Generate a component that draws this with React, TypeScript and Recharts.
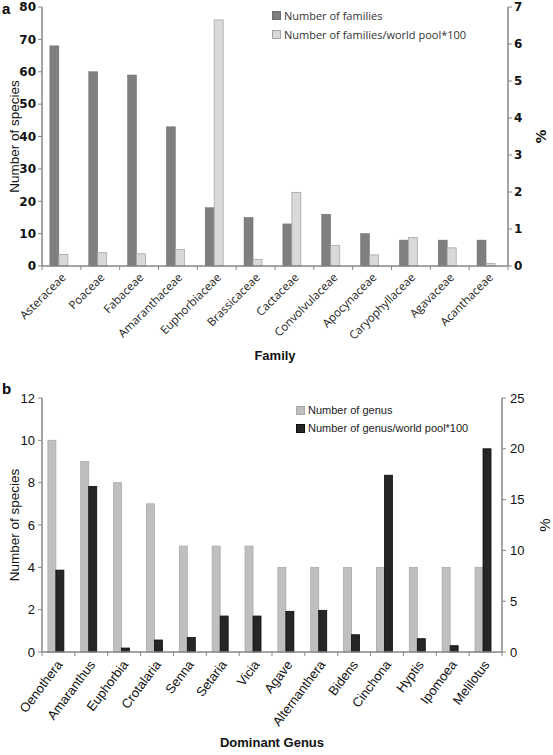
import React from 'react';
import { BarChart, Bar, XAxis, YAxis, Legend } from 'recharts';

// ---------- Data: chart a ----------
const families = [
  'Asteraceae', 'Poaceae', 'Fabaceae', 'Amaranthaceae', 'Euphorbiaceae', 'Brassicaceae',
  'Cactaceae', 'Convolvulaceae', 'Apocynaceae', 'Caryophyllaceae', 'Agavaceae', 'Acanthaceae',
];
const familyCounts = [68, 60, 59, 43, 18, 15, 13, 16, 10, 8, 8, 8];
const familyPercents = [0.31, 0.36, 0.33, 0.45, 6.65, 0.18, 1.99, 0.55, 0.3, 0.77, 0.49, 0.07];
const familyLeftTicks = [0, 10, 20, 30, 40, 50, 60, 70, 80];
const familyRightTicks = [0, 1, 2, 3, 4, 5, 6, 7];
const familySeriesNames = ['Number of families', 'Number of families/world pool*100'];

// ---------- Data: chart b ----------
const genera = [
  'Oenothera', 'Amaranthus', 'Euphorbia', 'Crotalaria', 'Senna', 'Setaria', 'Vicia',
  'Agave', 'Alternanthera', 'Bidens', 'Cinchona', 'Hyptis', 'Ipomoea', 'Melilotus',
];
const genusCounts = [10, 9, 8, 7, 5, 5, 5, 4, 4, 4, 4, 4, 4, 4];
const genusPercents = [8.06, 16.3, 0.39, 1.18, 1.44, 3.54, 3.54, 4.0, 4.1, 1.7, 17.4, 1.31, 0.62, 20.0];
const genusLeftTicks = [0, 2, 4, 6, 8, 10, 12];
const genusRightTicks = [0, 5, 10, 15, 20, 25];
const genusSeriesNames = ['Number of genus', 'Number of genus/world pool*100'];

const familyData = families.map((name, i) => ({ name, count: familyCounts[i], pct: familyPercents[i] }));
const genusData = genera.map((name, i) => ({ name, count: genusCounts[i], pct: genusPercents[i] }));

const AXIS = '#868686';

// bars in the original sit slightly left of the band centre
const shiftedBar = (shift: number) => (props: any) => {
  const { x, y, width, height, fill, stroke, strokeWidth } = props;
  if (!height || height <= 0) return <g />;
  return <rect x={x + shift} y={y} width={width} height={height} fill={fill} stroke={stroke} strokeWidth={strokeWidth} />;
};

const makeXTick = (opts: { angle: number; dx: number; dy: number; font: string; size: number; count: number; color: string }) =>
  (props: any) => {
    const { x, y, payload, index } = props;
    const half = payload && typeof payload.offset === 'number' ? payload.offset : 0;
    const ax = x + opts.dx;
    const ay = y + opts.dy;
    return (
      <g>
        <line x1={x - half} x2={x - half} y1={y} y2={y + 4} stroke={AXIS} strokeWidth={1} />
        {index === opts.count - 1 && (
          <line x1={x + half} x2={x + half} y1={y} y2={y + 4} stroke={AXIS} strokeWidth={1} />
        )}
        <text
          x={ax}
          y={ay}
          transform={`rotate(${opts.angle} ${ax} ${ay})`}
          textAnchor="end"
          dominantBaseline="central"
          fontFamily={opts.font}
          fontSize={opts.size}
          fill={opts.color}
        >
          {payload.value}
        </text>
      </g>
    );
  };

const FamilyTick = makeXTick({ angle: -45, dx: 2, dy: 9, font: '"Open Sans", sans-serif', size: 11.5, count: families.length, color: '#222' });
const GenusTick = makeXTick({ angle: -53, dx: 1, dy: 10, font: '"Liberation Sans", Arial, sans-serif', size: 13, count: genera.length, color: '#111' });

const LegendBox = ({ names, colors, strokes, font, size, color, gap }: any) => (
  <div style={{ fontFamily: font, fontSize: size, color, lineHeight: `${gap}px` }}>
    {names.map((n: string, i: number) => (
      <div key={n} style={{ display: 'flex', alignItems: 'center', height: gap, whiteSpace: 'nowrap' }}>
        <span style={{ display: 'inline-block', width: 7, height: 7, background: colors[i], border: `1px solid ${strokes[i]}`, marginRight: 3 }} />
        <span>{n}</span>
      </div>
    ))}
  </div>
);

const sideLabel = (text: string, dxFromLeft: number, font: string, size: number, weight: string, color: string) =>
  (props: any) => {
    const vb = props.viewBox;
    const cx = vb.x + dxFromLeft;
    const cy = vb.y + vb.height / 2;
    return (
      <text x={cx} y={cy} transform={`rotate(-90 ${cx} ${cy})`} textAnchor="middle" dominantBaseline="central"
        fontFamily={font} fontSize={size} fontWeight={weight} fill={color}>
        {text}
      </text>
    );
  };

const bottomLabel = (text: string, dy: number, font: string, size: number) =>
  (props: any) => {
    const vb = props.viewBox;
    return (
      <text x={vb.x + vb.width / 2} y={vb.y + dy} textAnchor="middle" dominantBaseline="central"
        fontFamily={font} fontSize={size} fontWeight="bold" fill="#111">
        {text}
      </text>
    );
  };

export default function App() {
  const verdanaBold = { fontFamily: '"DejaVu Sans", Verdana, sans-serif', fontSize: 12, fontWeight: 'bold', fill: '#111' } as any;
  const arialTick = { fontFamily: '"Liberation Sans", Arial, sans-serif', fontSize: 13, fill: '#111' } as any;
  return (
    <div style={{ position: 'absolute', left: 0, top: 0, width: 553, height: 755, background: '#fff', overflow: 'hidden' }}>
      <div style={{ position: 'absolute', left: 2, top: 0, fontFamily: '"Liberation Sans", Arial, sans-serif', fontWeight: 'bold', fontSize: 15 }}>a</div>
      <div style={{ position: 'absolute', left: 2, top: 380, fontFamily: '"Liberation Sans", Arial, sans-serif', fontWeight: 'bold', fontSize: 15 }}>b</div>

      <div style={{ position: 'absolute', left: 0, top: 0 }}>
        <BarChart width={553} height={380} data={familyData} margin={{ top: 7, right: 0, bottom: 0, left: 0 }}
          barCategoryGap="28%" barGap={0}>
          <XAxis dataKey="name" height={114} interval={0} tick={FamilyTick} tickLine={false} tickSize={0} tickMargin={0}
            axisLine={{ stroke: AXIS, strokeWidth: 1.5 }}
            label={{ content: bottomLabel('Family', 89, '"Liberation Sans", Arial, sans-serif', 13) } as any} />
          <YAxis yAxisId="left" width={42} domain={[0, 80]} ticks={familyLeftTicks} interval={0} tickSize={4} tickMargin={2}
            axisLine={{ stroke: AXIS, strokeWidth: 1.5 }} tickLine={{ stroke: AXIS }} tick={verdanaBold}
            label={{ content: sideLabel('Number of species', 14, '"Liberation Sans", Arial, sans-serif', 13.5, 'normal', '#111') } as any} />
          <YAxis yAxisId="right" orientation="right" width={45} domain={[0, 7]} ticks={familyRightTicks} interval={0} tickSize={4} tickMargin={2}
            axisLine={{ stroke: AXIS, strokeWidth: 1.5 }} tickLine={{ stroke: AXIS }} tick={verdanaBold}
            label={{ content: sideLabel('%', 33, '"DejaVu Sans", Verdana, sans-serif', 14, 'bold', '#111') } as any} />
          <Bar yAxisId="left" dataKey="count" name={familySeriesNames[0]} fill="#7f7f7f" stroke="#6e6e6e" strokeWidth={0.5}
            shape={shiftedBar(-3)} isAnimationActive={false} />
          <Bar yAxisId="right" dataKey="pct" name={familySeriesNames[1]} fill="#d9d9d9" stroke="#a6a6a6" strokeWidth={0.8}
            shape={shiftedBar(-3)} isAnimationActive={false} />
          <Legend layout="vertical" align="center" verticalAlign="middle"
            wrapperStyle={{ left: 272, top: 6, width: 240, height: 40 }}
            content={() => (
              <LegendBox names={familySeriesNames} colors={['#7f7f7f', '#d9d9d9']} strokes={['#6e6e6e', '#a6a6a6']}
                font='"Open Sans", sans-serif' size={11} color="#333" gap={19} />
            )} />
        </BarChart>
      </div>

      <div style={{ position: 'absolute', left: 0, top: 380 }}>
        <BarChart width={553} height={375} data={genusData} margin={{ top: 18, right: 0, bottom: 0, left: 0 }}
          barCategoryGap="27%" barGap={0}>
          <XAxis dataKey="name" height={103} interval={0} tick={GenusTick} tickLine={false} tickSize={0} tickMargin={0}
            axisLine={{ stroke: AXIS, strokeWidth: 1.5 }}
            label={{ content: bottomLabel('Dominant Genus', 90, '"Liberation Sans", Arial, sans-serif', 13) } as any} />
          <YAxis yAxisId="left" width={42} domain={[0, 12]} ticks={genusLeftTicks} interval={0} tickSize={4} tickMargin={3}
            axisLine={{ stroke: AXIS, strokeWidth: 1.5 }} tickLine={{ stroke: AXIS }} tick={arialTick}
            label={{ content: sideLabel('Number of species', 14, '"Liberation Sans", Arial, sans-serif', 13.5, 'normal', '#111') } as any} />
          <YAxis yAxisId="right" orientation="right" width={51} domain={[0, 25]} ticks={genusRightTicks} interval={0} tickSize={4} tickMargin={4}
            axisLine={{ stroke: AXIS, strokeWidth: 1.5 }} tickLine={{ stroke: AXIS }} tick={arialTick}
            label={{ content: sideLabel('%', 42, '"Liberation Sans", Arial, sans-serif', 15, 'normal', '#111') } as any} />
          <Bar yAxisId="left" dataKey="count" name={genusSeriesNames[0]} fill="#bfbfbf" stroke="#a9a9a9" strokeWidth={0.8}
            shape={shiftedBar(-3)} isAnimationActive={false} />
          <Bar yAxisId="right" dataKey="pct" name={genusSeriesNames[1]} fill="#262626" stroke="#0d0d0d" strokeWidth={0.8}
            shape={shiftedBar(-3)} isAnimationActive={false} />
          <Legend layout="vertical" align="center" verticalAlign="middle"
            wrapperStyle={{ left: 296, top: 21, width: 220, height: 40 }}
            content={() => (
              <LegendBox names={genusSeriesNames} colors={['#bfbfbf', '#262626']} strokes={['#a9a9a9', '#0d0d0d']}
                font='"Liberation Sans", Arial, sans-serif' size={11} color="#222" gap={18} />
            )} />
        </BarChart>
      </div>
    </div>
  );
}
